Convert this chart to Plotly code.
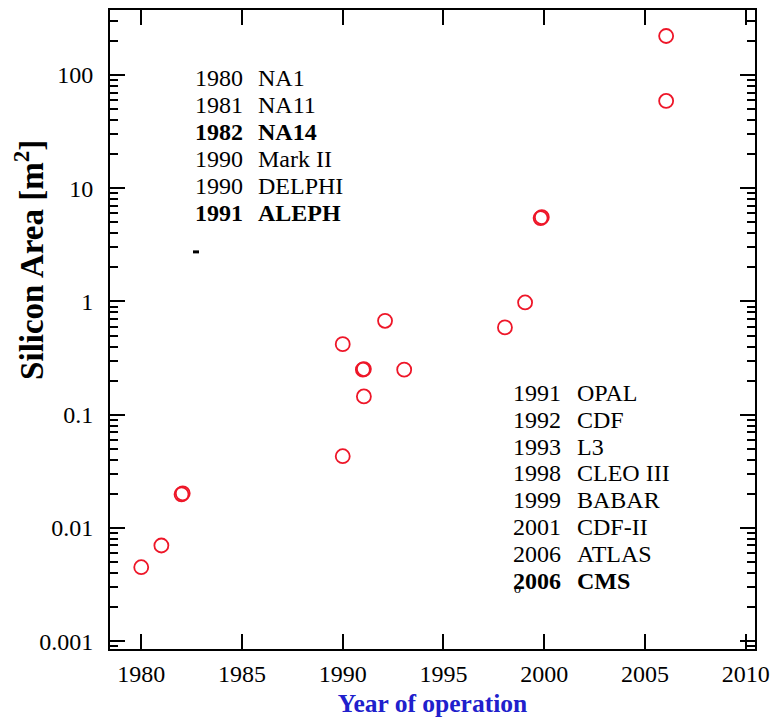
import plotly.graph_objects as go

# ---- data ----
years = [1980, 1981, 1982.0, 1982.06, 1990, 1990, 1991.0, 1991.05, 1991.05,
         1992.1, 1993.05, 1998.05, 1999.05, 1999.82, 1999.88, 2006.05, 2006.05]
areas = [0.0045, 0.0070, 0.0198, 0.0202, 0.043, 0.42, 0.250, 0.253, 0.145,
         0.675, 0.25, 0.59, 0.98, 5.45, 5.55, 59, 221]

left_years = ["1980", "1981", "1982", "1990", "1990", "1991"]
left_names = ["NA1", "NA11", "NA14", "Mark II", "DELPHI", "ALEPH"]
left_bold = [False, False, True, False, False, True]

right_years = ["1991", "1992", "1993", "1998", "1999", "2001", "2006", "2006"]
right_names = ["OPAL", "CDF", "L3", "CLEO III", "BABAR", "CDF-II", "ATLAS", "CMS"]
right_bold = [False, False, False, False, False, False, False, True]

x_ticks = [1980, 1985, 1990, 1995, 2000, 2005, 2010]
y_ticks = [0.001, 0.01, 0.1, 1, 10, 100]
y_tick_text = ["0.001", "0.01", "0.1", "1", "10", "100"]

FONT = "Liberation Serif"
RED = "rgb(238,22,40)"

fig = go.Figure()
fig.add_trace(go.Scatter(
    x=years, y=areas, mode="markers",
    marker=dict(symbol="circle-open", size=14, color=RED, line=dict(width=1.8, color=RED)),
    showlegend=False, hoverinfo="x+y"))

# plot area in pixels
L, R, T, B = 110, 755, 10, 649.3
W, H = 772, 718
def px(x):
    return (x - L) / (R - L)
def py(y):
    return (B - y) / (B - T)

annotations = []
def block(yrs, names, bold, x0, x1, y0, dy):
    for i, (a, b, bb) in enumerate(zip(yrs, names, bold)):
        ta = f"<b>{a}</b>" if bb else a
        tb = f"<b>{b}</b>" if bb else b
        yy = py(y0 + dy * i)
        annotations.append(dict(text=ta, x=px(x0), y=yy, xref="paper", yref="paper",
                                xanchor="left", yanchor="middle", showarrow=False,
                                font=dict(family=FONT, size=24, color="black")))
        annotations.append(dict(text=tb, x=px(x1), y=yy, xref="paper", yref="paper",
                                xanchor="left", yanchor="middle", showarrow=False,
                                font=dict(family=FONT, size=24, color="black")))

block(left_years, left_names, left_bold, 193, 256, 78.3, 27.0)
block(right_years, right_names, right_bold, 511, 575, 393.3, 26.8)

# y-axis title (not centred on the plot in the original)
annotations.append(dict(text="<b>Silicon Area [m<sup>2</sup>]</b>", textangle=-90,
                        x=px(29), y=py(260), xref="paper", yref="paper",
                        xanchor="center", yanchor="middle", showarrow=False,
                        font=dict(family=FONT, size=33, color="black")))

# small stray glyph present in the original
annotations.append(dict(text="o", x=px(517), y=py(589), xref="paper", yref="paper",
                        xanchor="center", yanchor="middle", showarrow=False,
                        font=dict(family=FONT, size=14, color="black")))

shapes = [dict(type="line", xref="paper", yref="paper",
               x0=px(193), x1=px(199), y0=py(252), y1=py(252),
               line=dict(color="black", width=3))]

axis_common = dict(showgrid=False, zeroline=False, showline=True, linecolor="black",
                   linewidth=2, mirror="allticks", ticks="inside", tickcolor="black",
                   tickwidth=2, ticklen=15, automargin=False,
                   tickfont=dict(family=FONT, size=24, color="black"))

fig.update_layout(
    width=W, height=H,
    margin=dict(l=L, r=W - R, t=T, b=H - B, autoexpand=False),
    plot_bgcolor="white", paper_bgcolor="white",
    font=dict(family=FONT),
    xaxis=dict(range=[1978.45, 2010.46], tickvals=x_ticks,
               ticktext=[str(v) for v in x_ticks],
               title=dict(text="<b>Year of operation</b>",
                          font=dict(family=FONT, size=25.5, color="#2020cc"), standoff=16),
               ticklabelstandoff=2,
               **axis_common),
    yaxis=dict(type="log", range=[-3.069, 2.574], tickvals=y_ticks, ticktext=y_tick_text,
               minor=dict(ticks="inside", ticklen=8, tickwidth=2, tickcolor="black",
                          dtick="D1", showgrid=False),
               ticklabelstandoff=10,
               **axis_common),
    annotations=annotations,
    shapes=shapes,
)

fig.write_html("out.html", config={"displayModeBar": False},
               post_script="document.body.style.margin='0';document.body.style.overflow='hidden';")
